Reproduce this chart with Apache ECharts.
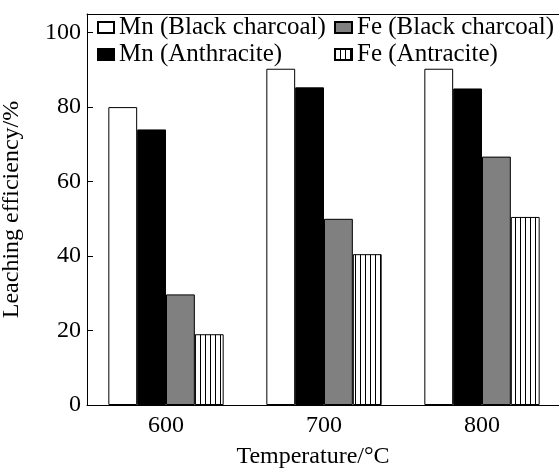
<!DOCTYPE html>
<html>
<head>
<meta charset="utf-8">
<script src="https://cdn.jsdelivr.net/npm/echarts@6/dist/echarts.min.js"></script>
<style>
html,body{margin:0;padding:0;background:#fff;}
#chart{width:559px;height:468px;}
</style>
</head>
<body>
<div id="chart"></div>
<script>
var categories = ['600', '700', '800'];
var mnBlackCharcoal = [80, 90.3, 90.3];
var mnAnthracite = [74, 85.3, 85];
var feBlackCharcoal = [29.7, 50, 66.7];
var feAntracite = [19, 40.5, 50.5];
var yTicks = [0, 20, 40, 60, 80, 100];

var FONT = '"Liberation Serif", "Times New Roman", serif';

// vertical-line hatch pattern
var pc = document.createElement('canvas');
pc.width = 5; pc.height = 10;
var g = pc.getContext('2d');
g.fillStyle = '#fff'; g.fillRect(0, 0, 5, 10);
g.fillStyle = '#000'; g.fillRect(0, 0, 1, 10);
var hatch = { image: pc, repeat: 'repeat' };

var chart = echarts.init(document.getElementById('chart'), null, { renderer: 'canvas' });

function barSeries(name, data, color) {
  return {
    name: name, type: 'bar', data: data,
    barGap: '0%', barCategoryGap: '27%',
    itemStyle: { color: color, borderColor: '#000', borderWidth: 1 },
    emphasis: { disabled: true },
    animation: false
  };
}

chart.setOption({
  backgroundColor: '#fff',
  animation: false,
  textStyle: { fontFamily: FONT, color: '#000' },
  legend: [
    {
      orient: 'vertical', left: 97, top: 15, itemGap: 2, padding: 0,
      itemWidth: 16, itemHeight: 11, icon: 'rect',
      data: ['Mn (Black charcoal)', 'Mn (Anthracite)'],
      textStyle: { fontFamily: FONT, fontSize: 25, color: '#000' },
      selectedMode: false
    },
    {
      orient: 'vertical', left: 334, top: 15, itemGap: 2, padding: 0,
      itemWidth: 17, itemHeight: 11, icon: 'rect',
      data: ['Fe (Black charcoal)', 'Fe (Antracite)'],
      textStyle: { fontFamily: FONT, fontSize: 25, color: '#000' },
      selectedMode: false
    }
  ],
  grid: { left: 87, top: 14, right: -2, bottom: 63, containLabel: false, outerBoundsMode: 'none' },
  xAxis: [
    {
      type: 'category', data: categories, position: 'bottom',
      axisLine: { show: true, lineStyle: { color: '#000', width: 1 } },
      axisTick: { show: false },
      axisLabel: { fontFamily: FONT, fontSize: 24, color: '#000', margin: 9 },
      name: 'Temperature/°C', nameLocation: 'middle', nameGap: 40,
      nameTextStyle: { fontFamily: FONT, fontSize: 24, color: '#000', padding: [0, 22, 0, 0] }
    },
    {
      type: 'category', data: categories, position: 'top',
      axisLine: { show: true, lineStyle: { color: '#000', width: 1 } },
      axisTick: { show: false }, axisLabel: { show: false }
    }
  ],
  yAxis: {
    type: 'value', min: yTicks[0], max: 105, interval: yTicks[1] - yTicks[0],
    axisLine: { show: true, lineStyle: { color: '#000', width: 1 } },
    axisTick: { show: true, inside: true, length: 6, lineStyle: { color: '#000' } },
    axisLabel: { fontFamily: FONT, fontSize: 24, color: '#000', margin: 6, showMaxLabel: false },
    splitLine: { show: false },
    name: 'Leaching efficiency/%', nameLocation: 'middle', nameGap: 63, nameRotate: 90,
    nameTextStyle: { fontFamily: FONT, fontSize: 24, color: '#000' }
  },
  series: [
    barSeries('Mn (Black charcoal)', mnBlackCharcoal, '#ffffff'),
    barSeries('Mn (Anthracite)', mnAnthracite, '#000000'),
    barSeries('Fe (Black charcoal)', feBlackCharcoal, '#808080'),
    barSeries('Fe (Antracite)', feAntracite, hatch)
  ]
});
</script>
</body>
</html>
